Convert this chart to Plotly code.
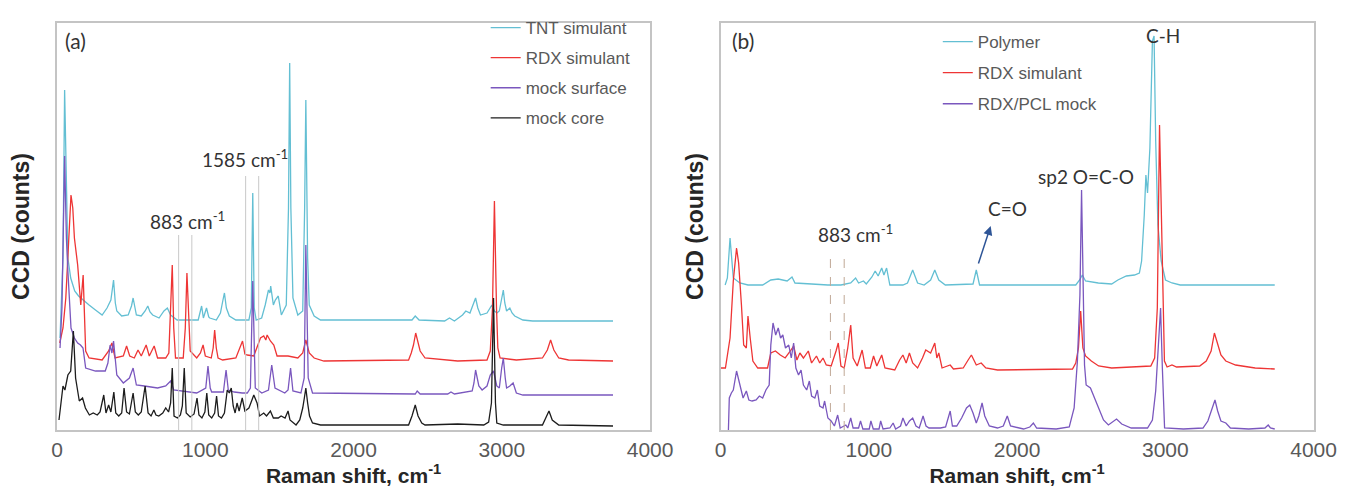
import plotly.graph_objects as go

# ---------------- Panel (a) data: Raman shift (cm-1) and CCD counts (arb.) ----------------
tnt_x = [20, 40, 51, 63, 73, 92, 119, 145, 183, 216, 259, 304, 337, 363, 381, 393, 403, 436, 480, 502,
         513, 525, 535, 568, 594, 612, 627, 645, 688, 721, 744, 766, 810, 952, 967, 975, 987, 1008, 1023, 1030,
         1074, 1102, 1119, 1129, 1142, 1162, 1206, 1294, 1310, 1320, 1330, 1343, 1380, 1404, 1426, 1436, 1441, 1459, 1472, 1492,
         1513, 1546, 1561, 1569, 1577, 1591, 1624, 1657, 1670, 1678, 1690, 1701, 1734, 1777, 2394, 2416, 2442, 2614, 2647, 2680,
         2735, 2757, 2785, 2805, 2823, 2838, 2856, 2900, 2933, 2950, 2967, 2983, 3000, 3010, 3020, 3032, 3054, 3069, 3087, 3142,
         3208, 3750]
tnt_y = [92, 172, 340, 222, 172, 152, 139, 134, 129, 125, 120, 115, 122, 130, 150, 127, 119, 114, 115, 124,
         132, 122, 115, 114, 119, 124, 118, 115, 112, 119, 122, 115, 110, 110, 119, 124, 112, 122, 113, 112,
         110, 117, 130, 137, 122, 114, 110, 110, 122, 237, 122, 110, 112, 125, 140, 137, 144, 125, 130, 134,
         115, 125, 222, 367, 222, 132, 115, 119, 222, 330, 172, 125, 114, 110, 110, 114, 110, 109, 112, 109,
         115, 119, 117, 126, 132, 122, 115, 117, 125, 119, 117, 119, 132, 140, 127, 119, 122, 117, 114, 110,
         109, 109]

rdxa_x = [18, 40, 59, 83, 94, 106, 117, 139, 160, 176, 185, 193, 216, 304, 348, 370, 391, 447, 469, 490,
          521, 546, 568, 601, 622, 655, 678, 733, 754, 766, 777, 787, 799, 851, 865, 876, 888, 898, 942, 967,
          985, 1000, 1040, 1053, 1063, 1074, 1086, 1117, 1206, 1234, 1251, 1267, 1283, 1327, 1349, 1372, 1394, 1408, 1417, 1439,
          1462, 1484, 1558, 1624, 1657, 1678, 1701, 1734, 1800, 2371, 2389, 2404, 2419, 2435, 2449, 2482, 2702, 2900, 2922, 2937,
          2950, 2964, 2973, 2988, 3098, 3274, 3307, 3329, 3351, 3384, 3450, 3750]
rdxa_y = [87, 102, 132, 202, 235, 222, 192, 165, 125, 155, 122, 79, 72, 70, 79, 87, 72, 74, 84, 74,
          72, 80, 74, 85, 74, 84, 72, 72, 77, 122, 165, 102, 72, 72, 102, 157, 102, 79, 72, 77,
          85, 74, 72, 82, 100, 82, 72, 70, 72, 82, 89, 76, 75, 74, 82, 92, 94, 90, 95, 89,
          85, 74, 74, 72, 77, 90, 77, 72, 69, 70, 77, 85, 97, 87, 79, 72, 69, 70, 79, 122,
          229, 122, 82, 72, 70, 72, 80, 90, 80, 72, 70, 69]

surf_x = [20, 33, 51, 63, 73, 94, 117, 139, 158, 175, 193, 259, 325, 343, 358, 370, 381, 393, 403, 447,
          488, 513, 525, 535, 589, 678, 733, 766, 787, 942, 1003, 1018, 1033, 1043, 1122, 1140, 1155, 1195, 1249, 1283,
          1304, 1320, 1337, 1381, 1426, 1448, 1470, 1536, 1558, 1575, 1591, 1645, 1667, 1678, 1694, 1723, 2416, 2429, 2449, 2635,
          2657, 2680, 2800, 2812, 2823, 2832, 2845, 2867, 2900, 2922, 2944, 2966, 2983, 2999, 3010, 3023, 3032, 3054, 3076, 3098,
          3142, 3750]
surf_y = [82, 122, 274, 192, 159, 102, 92, 87, 85, 82, 62, 59, 59, 67, 85, 77, 89, 67, 55, 47,
          52, 62, 52, 45, 44, 42, 44, 49, 40, 37, 42, 64, 42, 38, 38, 60, 40, 38, 37, 37,
          42, 149, 42, 37, 40, 65, 42, 37, 40, 62, 39, 37, 52, 185, 52, 37, 36, 39, 36, 36,
          38, 36, 39, 47, 60, 52, 44, 40, 44, 55, 59, 44, 42, 62, 72, 52, 42, 44, 47, 37,
          35, 35]

core_x = [13, 26, 40, 53, 73, 92, 110, 125, 150, 172, 191, 218, 244, 271, 290, 315, 330, 348, 363, 383,
          396, 416, 436, 452, 469, 488, 513, 528, 548, 568, 594, 614, 634, 653, 667, 686, 713, 733, 752, 766,
          777, 789, 812, 832, 845, 858, 871, 898, 924, 944, 957, 977, 997, 1010, 1023, 1043, 1063, 1076, 1089, 1109,
          1129, 1148, 1162, 1175, 1188, 1201, 1214, 1228, 1249, 1267, 1294, 1307, 1327, 1349, 1366, 1394, 1413, 1439, 1459, 1492,
          1511, 1538, 1558, 1571, 1612, 1637, 1657, 1668, 1678, 1690, 1703, 1723, 1777, 2371, 2394, 2416, 2435, 2460, 2482, 2702,
          2878, 2911, 2930, 2944, 2957, 2966, 3010, 3274, 3296, 3318, 3340, 3384, 3750]
core_y = [10, 27, 44, 40, 55, 59, 99, 52, 29, 32, 22, 15, 17, 15, 18, 35, 17, 25, 18, 38,
          17, 14, 17, 42, 18, 16, 37, 18, 15, 18, 44, 17, 14, 20, 15, 14, 17, 22, 18, 27,
          62, 14, 12, 15, 24, 62, 17, 13, 16, 32, 15, 12, 18, 37, 15, 12, 17, 34, 14, 12,
          17, 40, 37, 42, 24, 17, 27, 19, 32, 19, 22, 27, 35, 27, 14, 17, 14, 19, 12, 12,
          14, 12, 19, 10, 5, 10, 22, 32, 42, 27, 14, 7, 5, 5, 14, 25, 14, 7, 5, 6,
          5, 8, 27, 132, 27, 7, 5, 5, 12, 19, 10, 5, 4]

# ---------------- Panel (b) data ----------------
poly_x = [31, 46, 64, 76, 86, 130, 185, 284, 339, 389, 449, 482, 502, 614, 724, 812, 878, 911, 931, 964,
          983, 1021, 1043, 1063, 1087, 1102, 1120, 1142, 1230, 1261, 1296, 1329, 1373, 1417, 1445, 1472, 1516, 1703, 1725, 1747,
          2396, 2422, 2440, 2462, 2548, 2638, 2680, 2737, 2792, 2825, 2840, 2858, 2869, 2880, 2896, 2913, 2924, 2935, 2950, 2972,
          3001, 3045, 3100, 3738]
poly_y = [145, 152, 192, 167, 152, 147, 145, 145, 150, 151, 149, 153, 147, 146, 145, 145, 147, 152, 147, 149,
          146, 153, 159, 154, 162, 155, 162, 145, 145, 147, 160, 147, 145, 150, 160, 150, 145, 146, 160, 145,
          145, 150, 155, 149, 147, 146, 150, 154, 155, 157, 169, 215, 255, 237, 282, 389, 394, 289, 205, 169,
          150, 147, 145, 145]

rdxb_x = [0, 33, 64, 86, 108, 122, 141, 156, 174, 185, 200, 218, 251, 317, 339, 370, 403, 436, 471, 493,
          515, 535, 559, 592, 614, 647, 669, 691, 713, 746, 779, 794, 812, 834, 858, 878, 894, 922, 955, 977,
          1010, 1032, 1054, 1087, 1109, 1175, 1208, 1230, 1252, 1274, 1296, 1329, 1362, 1384, 1417, 1445, 1459, 1472, 1494, 1549,
          1571, 1637, 1670, 1692, 1725, 1758, 1789, 1868, 2374, 2396, 2414, 2429, 2444, 2462, 2501, 2550, 2638, 2902, 2928, 2946,
          2961, 2979, 2994, 3012, 3045, 3076, 3232, 3276, 3309, 3331, 3353, 3375, 3408, 3474, 3606, 3738]
rdxb_y = [62, 62, 92, 149, 182, 167, 125, 85, 82, 114, 92, 69, 62, 62, 77, 79, 75, 72, 79, 84,
          70, 77, 72, 79, 67, 74, 67, 72, 65, 64, 79, 87, 64, 62, 82, 105, 72, 64, 80, 62,
          62, 74, 64, 75, 62, 60, 70, 75, 67, 77, 67, 62, 72, 80, 77, 87, 72, 77, 62, 65,
          61, 62, 70, 75, 65, 67, 62, 60, 61, 67, 82, 119, 82, 74, 69, 64, 62, 64, 72, 122,
          305, 172, 69, 63, 65, 63, 64, 69, 79, 97, 85, 75, 69, 65, 62, 61]

mock_x = [53, 59, 73, 86, 108, 130, 152, 174, 191, 213, 240, 262, 284, 306, 328, 339, 354, 372, 389, 405,
          420, 438, 460, 477, 493, 508, 526, 543, 559, 581, 599, 614, 636, 653, 669, 691, 702, 724, 746, 768,
          790, 807, 832, 845, 858, 878, 894, 931, 944, 960, 1003, 1014, 1030, 1069, 1080, 1096, 1142, 1164, 1181, 1214,
          1230, 1252, 1274, 1296, 1318, 1340, 1366, 1386, 1406, 1483, 1518, 1549, 1564, 1593, 1626, 1659, 1681, 1703, 1725, 1742,
          1764, 1782, 1813, 1868, 1907, 1934, 1956, 2044, 2086, 2110, 2132, 2264, 2352, 2385, 2407, 2424, 2435, 2449, 2455, 2466,
          2495, 2528, 2550, 2583, 2616, 2649, 2671, 2706, 2770, 2880, 2913, 2935, 2957, 2968, 2980, 2995, 3122, 3254, 3287, 3315,
          3335, 3353, 3375, 3408, 3439, 3562, 3672, 3694, 3709, 3738]
mock_y = [0, 32, 37, 40, 59, 45, 32, 39, 30, 29, 30, 34, 32, 40, 45, 85, 107, 95, 102, 92,
          95, 82, 85, 72, 87, 62, 55, 60, 45, 40, 49, 34, 32, 40, 24, 22, 29, 12, 9, 4,
          15, 2, 4, 5, 2, 12, 2, 2, 9, 1, 1, 9, 1, 1, 9, 1, 2, 7, 1, 4,
          12, 4, 9, 12, 4, 2, 14, 4, 2, 2, 3, 19, 4, 4, 12, 22, 25, 17, 7, 14,
          27, 14, 4, 2, 4, 14, 4, 1, 3, 7, 2, 1, 3, 22, 69, 135, 240, 122, 65, 45,
          42, 30, 22, 10, 5, 9, 11, 6, 2, 2, 10, 39, 89, 122, 62, 2, 1, 2, 9, 22,
          30, 19, 9, 7, 2, 1, 2, 5, 2, 1]

x_ticks = [0, 1000, 2000, 3000, 4000]
names_a = ["TNT simulant", "RDX simulant", "mock surface", "mock core"]
names_b = ["Polymer", "RDX simulant", "RDX/PCL mock"]

CYAN = "#63bfd3"
RED = "#ee3535"
PURPLE = "#7a57be"
BLACK = "#1c1c1c"

fig = go.Figure()

series_a = [(tnt_x, tnt_y, CYAN), (rdxa_x, rdxa_y, RED), (surf_x, surf_y, PURPLE), (core_x, core_y, BLACK)]
for (xs, ys, c), nm in zip(series_a, names_a):
    fig.add_trace(go.Scatter(x=xs, y=ys, mode="lines", name=nm, line=dict(color=c, width=1.3),
                             xaxis="x", yaxis="y", legend="legend", legendgroup="a" + nm))

series_b = [(poly_x, poly_y, CYAN), (rdxb_x, rdxb_y, RED), (mock_x, mock_y, PURPLE)]
for (xs, ys, c), nm in zip(series_b, names_b):
    fig.add_trace(go.Scatter(x=xs, y=ys, mode="lines", name=nm, line=dict(color=c, width=1.3),
                             xaxis="x2", yaxis="y2", legend="legend2", legendgroup="b" + nm))

W, H = 1355, 486
dom_a = [44 / W, 650 / W]
dom_b = [722 / W, 1328 / W]
dom_y = [(H - 422) / H, (H - 15) / H]

tickfont = dict(family="Liberation Sans, Arial, sans-serif", size=21, color="#595959")
titlefont = dict(family="Liberation Sans, Arial, sans-serif", size=21, color="#262626", weight="bold")
ytitlefont = dict(family="Liberation Sans, Arial, sans-serif", size=23, color="#262626", weight="bold")
frame = "#c4c4c4"

def xaxis(domain, anchor):
    return dict(domain=domain, anchor=anchor, range=[0, 4000], tickvals=x_ticks,
                ticks="", tickfont=tickfont,
                showgrid=False, zeroline=False, showline=True, mirror=True, linecolor=frame, linewidth=1.5,
                title=dict(text="<b>Raman shift, cm<sup>-1</sup></b>", font=titlefont, standoff=0))

def yaxis(domain, anchor, standoff):
    return dict(domain=domain, anchor=anchor, range=[0, 407], showticklabels=False, ticks="",
                showgrid=False, zeroline=False, showline=True, mirror=True, linecolor=frame, linewidth=1.5,
                title=dict(text="<b>CCD (counts)</b>", font=ytitlefont, standoff=standoff))

legfont = dict(family="Liberation Sans, Arial, sans-serif", size=17, color="#595959")

ann_font = dict(family="Lato, Noto Sans, sans-serif", size=19, color="#333333")
lab_font = dict(family="Lato, Noto Sans, sans-serif", size=21, color="#333333")

annotations = [
    dict(text="(a)", x=125, y=390, xref="x", yref="y", showarrow=False, font=lab_font),
    dict(text="883 cm<sup>-1</sup>", x=880, y=210, xref="x", yref="y", showarrow=False, font=ann_font),
    dict(text="1585 cm<sup>-1</sup>", x=1270, y=272, xref="x", yref="y", showarrow=False, font=ann_font),
    dict(text="(b)", x=150, y=390, xref="x2", yref="y2", showarrow=False, font=lab_font),
    dict(text="883 cm<sup>-1</sup>", x=910, y=197, xref="x2", yref="y2", showarrow=False, font=ann_font),
    dict(text="C=O", x=1934, y=222, xref="x2", yref="y2", showarrow=False, font=ann_font),
    dict(text="sp2 O=C-O", x=2468, y=254, xref="x2", yref="y2", showarrow=False, font=ann_font),
    dict(text="C-H", x=2983, y=395, xref="x2", yref="y2", showarrow=False, font=ann_font),
    dict(text="", x=1822, y=204, ax=1736, ay=165, xref="x2", yref="y2", axref="x2", ayref="y2",
         showarrow=True, arrowhead=2, arrowsize=1.2, arrowwidth=1.5, arrowcolor="#2e5597"),
]

shapes = []
for xv in [820, 909]:
    shapes.append(dict(type="line", x0=xv, x1=xv, y0=0, y1=195, xref="x", yref="y",
                       line=dict(color="#c8c8c8", width=1)))
for xv in [1272, 1360]:
    shapes.append(dict(type="line", x0=xv, x1=xv, y0=0, y1=254, xref="x", yref="y",
                       line=dict(color="#c8c8c8", width=1)))
for xv in [741, 834]:
    shapes.append(dict(type="line", x0=xv, x1=xv, y0=0, y1=177, xref="x2", yref="y2",
                       line=dict(color="#c0a896", width=1, dash="dash")))

fig.update_layout(
    width=W, height=H, margin=dict(l=0, r=0, t=0, b=0),
    paper_bgcolor="white", plot_bgcolor="white",
    xaxis=xaxis(dom_a, "y"), yaxis=yaxis(dom_y, "x", 21),
    xaxis2=xaxis(dom_b, "y2"), yaxis2=yaxis(dom_y, "x2", 9),
    legend=dict(x=482 / W, y=(H - 2) / H, xanchor="left", yanchor="top", font=legfont,
                bgcolor="rgba(0,0,0,0)", tracegroupgap=5, itemwidth=30),
    legend2=dict(x=944 / W, y=(H - 16) / H, xanchor="left", yanchor="top", font=legfont,
                 bgcolor="rgba(0,0,0,0)", tracegroupgap=6, itemwidth=30),
    annotations=annotations, shapes=shapes, showlegend=True,
)

fig.write_html("out.html")
